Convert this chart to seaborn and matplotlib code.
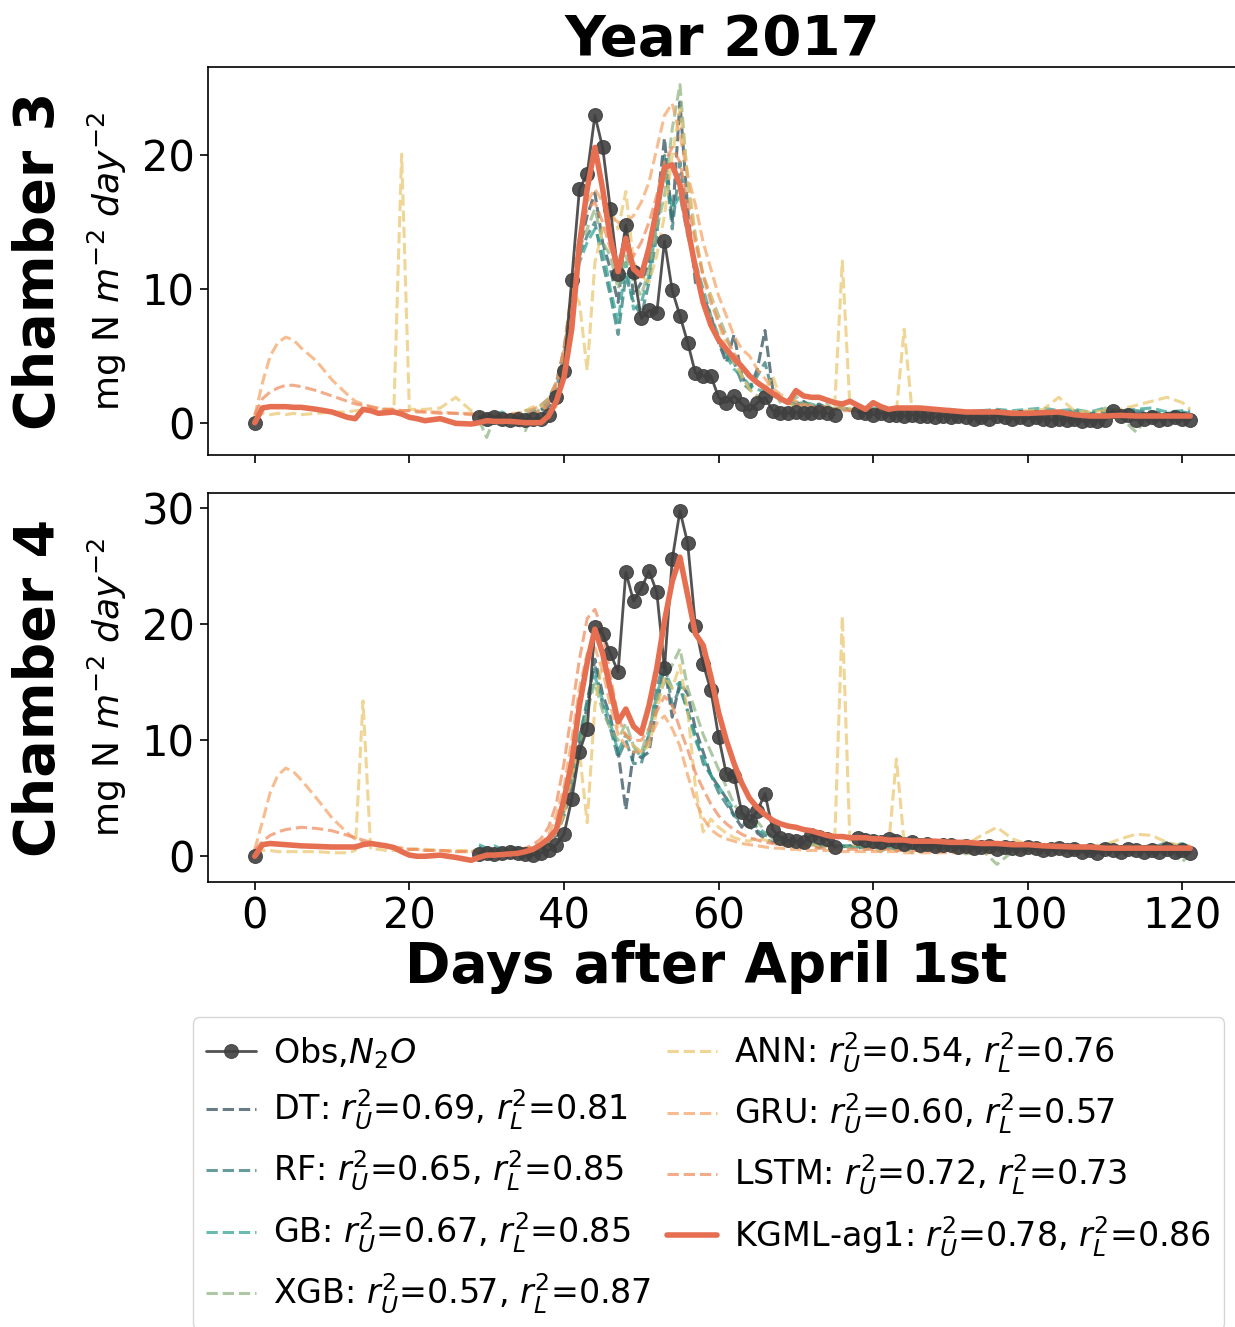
import numpy as np
import pandas as pd
import seaborn as sns
import matplotlib.pyplot as plt

sns.set_style('ticks')
plt.rcParams['font.family'] = ['DejaVu Sans']
plt.rcParams['mathtext.fontset'] = 'dejavusans'
plt.rcParams['text.color'] = 'black'
plt.rcParams['axes.labelcolor'] = 'black'

# x grids (days after April 1st)
early_days = [0, 1, 2, 3, 4, 5, 6, 8, 10, 12, 13, 14, 15, 16, 17, 18, 19, 20, 21, 22, 24, 26, 28]
main_days = list(range(29, 87)) + list(range(88, 121, 2)) + [121]
obs_days = [0] + list(range(29, 76)) + list(range(78, 122))
obs_segment = [0] + [1] * 47 + [2] * 44   # gaps in the observations

models = ['DT', 'RF', 'GB', 'XGB', 'ANN', 'GRU', 'LSTM', 'KGML-ag1']
r2_u = ['0.69', '0.65', '0.67', '0.57', '0.54', '0.60', '0.72', '0.78']
r2_l = ['0.81', '0.85', '0.85', '0.87', '0.76', '0.57', '0.73', '0.86']
colors = ['#264653', '#287271', '#2a9d8f', '#8ab17d', '#e9c46a', '#f4a261', '#ee8959', '#e76f51']

# ---------------- Chamber 3 ----------------
c3_obs = [0.0,
          0.4, 0.3, 0.4, 0.3, 0.2, 0.3, 0.2, 0.3, 0.3, 0.6,
          1.9, 3.9, 10.7, 17.5, 18.6, 23.0, 20.6, 16.0, 11.1, 14.8, 11.3, 7.8, 8.4, 8.2, 13.6, 9.9, 8.0, 6.0, 3.7, 3.5, 3.5, 1.9,
          1.5, 2.0, 1.4, 0.9, 1.5, 1.9, 0.9, 0.7, 0.7, 0.8, 0.7, 0.7, 0.8, 0.7, 0.6,
          0.8, 0.7, 0.6, 0.7, 0.6, 0.6, 0.5, 0.6, 0.5, 0.5, 0.4, 0.5, 0.4, 0.5, 0.4, 0.3, 0.4, 0.3, 0.5, 0.4, 0.3, 0.4,
          0.3, 0.4, 0.3, 0.2, 0.3, 0.2, 0.3, 0.1, 0.2, 0.1, 0.2, 0.9, 0.5, 0.6, 0.2, 0.3, 0.4, 0.2, 0.3, 0.4, 0.3, 0.2]

c3_kgml_early = [0.0, 1.1, 1.2, 1.2, 1.2, 1.15, 1.15, 1.0, 0.8, 0.4, 0.3, 1.0, 0.9, 0.7, 0.75, 0.8, 0.65, 0.4, 0.3, 0.15, 0.3, -0.05, -0.1]
c3_kgml = [0.0, 0.15, 0.1, 0.1, 0.1, 0.05, 0.0, 0.0, 0.0, 0.5,
           1.6, 3.4, 7.0, 13.3, 17.5, 20.6, 17.5, 13.8, 11.3, 13.8, 11.5, 11.0, 13.1, 16.0, 19.1, 19.3, 17.8, 14.6, 11.6, 9.0, 7.3, 6.2,
           5.5, 4.8, 4.2, 3.5, 3.0, 2.6, 2.2, 1.8, 1.5, 2.4, 2.0, 1.9, 1.9, 1.7, 1.5, 1.4, 1.6, 1.3, 1.0,
           1.5, 1.2, 1.0, 1.1, 1.1, 1.1, 1.1,
           1.0, 0.9, 0.8, 0.8, 0.8, 0.7, 0.7, 0.75, 0.8, 0.6, 0.5, 0.5, 0.55, 0.5, 0.5, 0.5, 0.5, 0.5]
c3_dt = [0.5, 0.6, 0.4, 0.5, 0.6, 0.4, 0.5, 0.7, 0.9, 1.2,
         2.0, 4.0, 8.5, 13.0, 15.5, 17.2, 13.5, 11.5, 9.0, 14.5, 9.5, 10.5, 12.0, 16.0, 21.3, 15.0, 24.0, 16.0, 10.5, 9.5, 8.0, 6.0,
         4.5, 6.6, 3.5, 2.5, 4.0, 6.9, 2.5, 1.8, 1.5, 1.3, 1.6, 1.2, 1.4, 1.1, 1.0, 1.2, 0.9, 1.0, 0.8,
         0.9, 1.0, 0.8, 1.0, 0.7, 0.9, 0.8,
         0.7, 0.9, 0.6, 0.8, 0.7, 0.6, 0.8, 0.7, 0.5, 0.7, 0.6, 0.9, 0.6, 0.7, 0.8, 0.6, 0.7, 0.6]
c3_rf = [0.6, 0.3, 0.5, 0.4, 0.3, 0.5, 0.6, 0.8, 1.0, 1.5,
         2.5, 5.0, 9.0, 12.5, 14.0, 15.0, 12.0, 9.5, 6.6, 11.0, 9.0, 8.0, 10.5, 14.0, 20.0, 14.5, 19.5, 15.0, 11.5, 9.0, 7.5, 6.0,
         5.0, 4.5, 3.0, 2.5, 3.5, 4.5, 2.2, 1.8, 1.5, 1.4, 1.5, 1.2, 1.3, 1.1, 1.0, 1.1, 1.0, 0.9, 0.9,
         1.0, 0.9, 0.9, 0.8, 0.9, 0.8, 1.0,
         0.8, 0.7, 0.8, 0.9, 0.7, 0.8, 0.7, 0.8, 0.6, 0.9, 0.7, 0.8, 0.7, 0.9, 0.8, 0.7, 0.8, 0.7]
c3_gb = [0.7, 0.5, 0.6, 0.8, 0.5, 0.7, 0.9, 1.0, 1.3, 1.8,
         3.0, 5.5, 9.5, 12.0, 13.5, 14.5, 13.0, 10.0, 7.5, 12.0, 8.5, 9.0, 11.0, 15.0, 19.0, 16.0, 17.0, 14.0, 12.0, 10.0, 8.0, 6.5,
         5.0, 4.0, 3.5, 2.8, 2.5, 2.3, 2.0, 1.8, 1.6, 1.5, 1.5, 1.4, 1.2, 1.1, 1.1, 1.0, 1.0, 1.0, 0.9,
         1.1, 1.0, 1.0, 0.9, 1.0, 0.9, 1.0,
         0.9, 1.0, 0.8, 0.9, 1.0, 0.9, 1.0, 1.1, 0.9, 1.0, 0.8, 1.1, 0.9, 1.0, 1.1, 0.8, 0.9, 0.9]
c3_xgb = [0.2, -1.1, 0.4, 0.1, 0.6, -0.1, -0.6, 0.7, 1.0, 1.5,
          3.0, 5.0, 9.0, 13.0, 14.5, 16.0, 13.5, 12.5, 10.0, 12.5, 10.5, 9.5, 11.5, 14.5, 17.0, 22.0, 25.3, 18.0, 14.0, 11.0, 9.5, 8.0,
          6.5, 5.0, 3.5, 2.5, 2.0, 1.5, 2.5, 1.5, 0.8, 2.0, 1.2, 0.7, 1.0, 1.4, 0.9, 1.2, 0.9, 1.0, 0.8,
          0.9, 0.7, 0.6, 1.0, 0.5, 0.9, 0.4,
          1.0, 0.6, 0.2, 0.9, 0.5, 0.8, 0.3, 0.9, 0.5, 0.8, 0.2, 1.1, 0.4, -0.7, 0.8, 0.6, 0.3, 0.5]
c3_ann_early = [0.3, 0.7, 0.6, 0.7, 0.6, 0.7, 0.6, 0.7, 0.8, 0.8, 0.9, 0.9, 0.9, 0.9, 1.0, 1.0, 20.1, 1.0, 1.0, 1.0, 1.1, 1.9, 0.9]
c3_ann = [0.8, 0.6, 0.7, 0.6, 0.5, 0.7, 0.9, 1.2, 1.3, 0.9,
          1.2, 4.5, 10.0, 9.0, 3.9, 12.0, 14.5, 16.0, 14.5, 17.3, 12.0, 11.0, 10.5, 12.5, 15.5, 20.0, 23.5, 18.5, 14.0, 11.0, 9.5, 7.5,
          5.5, 4.5, 3.5, 2.5, 1.8, 2.5, 3.5, 1.8, 1.5, 1.2, 1.2, 1.0, 1.0, 1.0, 1.1, 12.1, 1.0, 1.0, 0.9,
          1.0, 0.9, 0.9, 0.9, 7.0, 1.0, 1.0,
          0.9, 1.0, 0.9, 0.8, 0.9, 0.8, 0.9, 1.0, 1.9, 0.9, 0.8, 0.9, 1.0, 1.3, 1.6, 1.9, 1.5, 1.0]
c3_gru_early = [0.5, 3.0, 5.0, 6.0, 6.4, 6.2, 5.6, 4.6, 3.2, 2.1, 1.6, 1.4, 1.2, 1.0, 1.0, 1.0, 0.9, 0.9, 0.9, 0.8, 0.8, 0.7, 0.7]
c3_gru = [0.6, 0.6, 0.6, 0.6, 0.7, 0.7, 0.8, 1.0, 1.3, 1.8,
          3.0, 5.5, 9.5, 14.0, 16.5, 17.5, 16.5, 15.5, 15.0, 15.0, 15.5, 16.5, 18.0, 20.5, 23.0, 23.9, 21.5, 18.5, 16.3, 13.5, 11.5, 9.5,
          8.0, 6.5, 5.5, 5.0, 4.0, 3.3, 2.6, 2.1, 1.8, 1.6, 1.4, 1.3, 1.2, 1.2, 1.1, 1.1, 1.0, 1.0, 1.0,
          0.9, 0.9, 0.9, 0.8, 0.8, 0.8, 0.8,
          0.8, 0.7, 0.7, 0.7, 0.7, 0.7, 0.6, 0.6, 0.6, 0.6, 0.6, 0.6, 0.6, 0.6, 0.6, 0.6, 0.6, 0.6]
c3_lstm_early = [0.6, 1.8, 2.3, 2.6, 2.8, 2.8, 2.7, 2.4, 2.0, 1.6, 1.4, 1.3, 1.2, 1.1, 1.0, 1.0, 0.9, 0.9, 0.8, 0.8, 0.7, 0.7, 0.6]
c3_lstm = [0.5, 0.5, 0.5, 0.5, 0.5, 0.6, 0.6, 0.7, 0.9, 1.4,
           2.8, 5.5, 10.0, 14.0, 16.0, 16.5, 15.0, 13.0, 12.0, 12.0, 12.5, 13.5, 15.0, 17.0, 19.5, 20.6, 19.5, 16.5, 13.5, 11.0, 9.0, 7.5,
           6.2, 5.2, 4.3, 3.6, 3.0, 2.5, 2.1, 1.8, 1.6, 1.4, 1.3, 1.2, 1.1, 1.0, 1.0, 0.9, 0.9, 0.9, 0.8,
           0.8, 0.8, 0.8, 0.7, 0.7, 0.7, 0.7,
           0.7, 0.7, 0.6, 0.6, 0.6, 0.6, 0.6, 0.5, 0.5, 0.5, 0.5, 0.5, 0.5, 0.5, 0.5, 0.5, 0.5, 0.5]

# ---------------- Chamber 4 ----------------
c4_obs = [0.0,
          0.2, 0.3, 0.2, 0.3, 0.4, 0.3, 0.2, 0.1, 0.3, 0.5,
          1.0, 1.9, 4.9, 9.0, 11.0, 19.8, 19.2, 17.5, 15.9, 24.5, 22.0, 23.1, 24.6, 22.8, 16.2, 25.6, 29.8, 27.0, 19.9, 16.6, 14.3, 10.3,
          7.1, 6.9, 3.8, 3.0, 3.9, 5.4, 2.3, 1.6, 1.4, 1.3, 1.2, 1.8, 1.7, 1.5, 0.8,
          1.6, 1.4, 1.3, 1.2, 1.5, 1.3, 1.1, 1.2, 1.0, 1.1, 0.9, 1.0, 1.0, 0.8, 0.9, 0.7, 0.8, 0.9, 0.6, 0.8, 0.7, 0.6,
          0.8, 0.7, 0.5, 0.6, 0.7, 0.5, 0.6, 0.4, 0.5, 0.3, 0.6, 0.5, 0.4, 0.6, 0.5, 0.4, 0.5, 0.4, 0.6, 0.4, 0.5, 0.3]

c4_kgml_early = [0.0, 1.0, 1.1, 1.05, 1.0, 0.95, 0.9, 0.85, 0.8, 0.8, 0.8, 1.0, 1.1, 1.0, 0.9, 0.75, 0.4, 0.1, 0.0, 0.0, 0.1, -0.1, -0.35]
c4_kgml = [-0.1, 0.1, 0.1, 0.15, 0.2, 0.25, 0.4, 0.6, 1.0, 1.5,
           2.3, 4.9, 8.1, 13.0, 16.7, 19.6, 17.5, 14.4, 11.6, 12.7, 11.2, 10.6, 13.0, 16.2, 20.3, 23.7, 25.8, 22.5, 19.2, 18.2, 15.5, 12.4,
           10.0, 8.0, 6.3, 5.0, 4.2, 3.6, 3.1, 2.8, 2.6, 2.5, 2.3, 2.2, 2.0, 1.8, 1.7, 1.7, 1.6, 1.6, 1.6,
           1.5, 1.5, 1.4, 1.4, 1.4, 1.3, 1.3,
           1.3, 1.2, 1.2, 1.1, 1.1, 1.0, 1.0, 0.9, 0.85, 0.8, 0.8, 0.7, 0.7, 0.7, 0.7, 0.7, 0.7, 0.7]
c4_dt = [0.5, 0.2, 0.4, 0.3, 0.5, 0.2, 0.3, 0.5, 0.7, 1.0,
         1.8, 3.5, 6.0, 9.5, 13.0, 17.0, 14.0, 12.0, 9.0, 4.0, 9.0, 8.5, 9.0, 13.0, 16.5, 12.0, 15.0, 14.0, 11.0, 9.0, 7.0, 6.0,
         5.0, 3.5, 2.5, 4.0, 2.0, 1.5, 1.2, 1.5, 1.0, 1.2, 0.9, 1.1, 0.8, 1.0, 0.9, 0.8, 0.9, 0.7, 0.8,
         0.8, 0.7, 0.8, 0.6, 0.7, 0.8, 0.6,
         0.7, 0.6, 0.8, 0.5, 0.7, 0.6, 0.5, 0.7, 0.6, 0.4, 0.6, 0.5, 0.7, 0.5, 0.6, 0.5, 0.8, 0.6]
c4_rf = [0.8, 0.5, 0.6, 0.4, 0.6, 0.5, 0.4, 0.6, 0.8, 1.2,
         2.2, 4.0, 6.5, 10.0, 13.5, 16.5, 13.0, 11.0, 8.5, 10.0, 8.0, 8.0, 10.5, 14.5, 17.0, 13.0, 14.5, 12.5, 10.5, 8.0, 7.0, 5.5,
         4.5, 3.5, 3.0, 2.5, 2.2, 1.8, 1.6, 1.4, 1.3, 1.2, 1.1, 1.0, 1.0, 0.9, 0.9, 0.9, 0.8, 0.8, 0.8,
         0.9, 0.8, 0.7, 0.8, 0.9, 0.7, 0.8,
         0.7, 0.8, 0.6, 0.7, 0.8, 0.7, 0.6, 0.8, 0.7, 0.9, 0.6, 0.7, 0.8, 0.6, 0.7, 1.2, 0.7, 0.8]
c4_gb = [1.0, 0.7, 0.9, 0.6, 0.8, 0.7, 0.6, 0.7, 0.9, 1.3,
         2.5, 4.0, 7.0, 10.5, 13.0, 15.5, 13.5, 11.5, 9.0, 10.5, 9.5, 8.5, 10.5, 14.0, 16.0, 14.5, 15.0, 12.5, 10.0, 8.5, 7.0, 6.0,
         5.0, 4.0, 3.5, 3.0, 2.5, 2.0, 1.8, 1.6, 1.4, 1.3, 1.2, 1.1, 1.0, 1.0, 1.0, 0.9, 0.9, 0.9, 0.9,
         1.0, 0.9, 0.8, 1.0, 0.9, 0.8, 0.9,
         0.8, 0.9, 0.7, 0.8, 0.9, 0.8, 0.7, 0.8, 0.9, 0.7, 0.8, 0.9, 0.7, 0.8, 0.9, 0.8, 1.1, 0.8]
c4_xgb = [0.4, 0.1, 0.5, -0.2, 0.3, 0.6, -0.1, 0.4, 0.6, 1.0,
          2.0, 3.8, 6.5, 9.5, 12.5, 15.0, 12.5, 11.0, 10.0, 11.5, 9.5, 9.0, 11.0, 13.5, 15.0, 16.5, 17.9, 14.5, 12.5, 10.5, 9.0, 7.5,
          6.0, 4.5, 3.5, 2.5, 3.0, 2.2, 1.5, 1.8, 1.0, 1.5, 0.9, 1.2, 0.7, 1.0, 0.8, 1.0, 0.7, 0.9, 0.6,
          0.7, 0.4, 0.8, 0.5, 0.9, 0.3, 0.7,
          0.5, 0.8, 0.2, 0.6, -0.7, 0.4, 0.5, 0.7, 0.3, 0.8, 0.4, 0.7, 0.2, 0.6, 0.5, 0.8, -0.5, 0.4]
c4_ann_early = [0.2, 0.5, 0.5, 0.4, 0.4, 0.4, 0.4, 0.4, 0.3, 0.3, 0.5, 13.4, 0.6, 0.6, 0.5, 0.5, 0.5, 0.6, 0.6, 0.6, 0.5, 0.5, 0.5]
c4_ann = [0.5, 0.4, 0.5, 0.5, 0.4, 0.5, 0.6, 0.7, 0.9, 1.3,
          2.0, 3.5, 7.0, 9.0, 2.9, 13.0, 17.0, 14.0, 11.0, 10.5, 9.5, 9.0, 9.5, 12.5, 15.5, 14.5, 16.5, 12.5, 6.0, 2.1, 3.2, 2.5,
          2.0, 1.6, 1.4, 1.3, 1.6, 1.4, 1.2, 1.1, 1.0, 1.0, 0.9, 1.0, 0.9, 1.0, 1.0, 20.7, 1.0, 1.0, 0.9,
          0.9, 0.9, 1.0, 8.4, 1.2, 1.0, 0.9,
          0.9, 0.9, 1.0, 1.8, 2.5, 1.5, 1.0, 0.9, 0.8, 0.9, 0.8, 1.0, 1.5, 1.9, 1.8, 1.2, 0.9, 0.9]
c4_gru_early = [0.6, 3.0, 5.5, 7.0, 7.6, 7.3, 6.6, 5.0, 3.3, 2.0, 1.5, 1.2, 1.0, 0.9, 0.8, 0.7, 0.7, 0.6, 0.6, 0.5, 0.5, 0.4, 0.4]
c4_gru = [0.4, 0.4, 0.4, 0.4, 0.5, 0.5, 0.6, 0.8, 1.1, 1.8,
          3.5, 6.0, 10.0, 14.5, 17.5, 18.0, 16.0, 13.0, 10.5, 9.5, 9.0, 9.0, 10.0, 11.5, 12.1, 11.0, 9.5, 7.0, 4.8, 3.3, 2.3, 1.8,
          1.5, 1.3, 1.1, 1.0, 0.9, 0.8, 0.7, 0.7, 0.6, 0.6, 0.5, 0.5, 0.5, 0.5, 0.5, 0.4, 0.4, 0.4, 0.4,
          0.4, 0.4, 0.4, 0.4, 0.3, 0.3, 0.3,
          0.3, 0.3, 0.3, 0.3, 0.3, 0.3, 0.3, 0.3, 0.3, 0.3, 0.3, 0.3, 0.3, 0.3, 0.3, 0.3, 0.3, 0.3]
c4_lstm_early = [0.5, 1.3, 1.8, 2.1, 2.3, 2.4, 2.5, 2.4, 2.2, 1.8, 1.6, 1.4, 1.2, 1.0, 0.9, 0.8, 0.7, 0.6, 0.6, 0.5, 0.5, 0.4, 0.4]
c4_lstm = [0.4, 0.4, 0.4, 0.5, 0.5, 0.6, 0.7, 1.0, 1.5, 2.5,
           4.5, 8.0, 12.5, 17.0, 20.5, 21.3, 19.5, 15.5, 12.0, 10.4, 10.0, 10.0, 11.0, 12.5, 13.8, 13.0, 11.0, 9.2, 7.2, 5.8, 4.5, 3.5,
           2.8, 2.3, 1.9, 1.6, 1.4, 1.2, 1.1, 1.0, 0.9, 0.9, 0.8, 0.8, 0.7, 0.7, 0.7, 0.6, 0.6, 0.6, 0.6,
           0.6, 0.6, 0.6, 0.5, 0.5, 0.5, 0.5,
           0.5, 0.5, 0.5, 0.5, 0.5, 0.5, 0.5, 0.5, 0.5, 0.5, 0.5, 0.5, 0.5, 0.5, 0.5, 0.5, 0.5, 0.5]

c3_series = [(main_days, c3_dt), (main_days, c3_rf), (main_days, c3_gb), (main_days, c3_xgb),
             (early_days + main_days, c3_ann_early + c3_ann),
             (early_days + main_days, c3_gru_early + c3_gru),
             (early_days + main_days, c3_lstm_early + c3_lstm),
             (early_days + main_days, c3_kgml_early + c3_kgml)]
c4_series = [(main_days, c4_dt), (main_days, c4_rf), (main_days, c4_gb), (main_days, c4_xgb),
             (early_days + main_days, c4_ann_early + c4_ann),
             (early_days + main_days, c4_gru_early + c4_gru),
             (early_days + main_days, c4_lstm_early + c4_lstm),
             (early_days + main_days, c4_kgml_early + c4_kgml)]

fig = plt.figure(figsize=(12.35, 13.27), dpi=100)
ax1 = fig.add_axes([0.1684, 0.6571, 0.8332, 0.2924])
ax2 = fig.add_axes([0.1684, 0.3353, 0.8332, 0.2931], sharex=ax1)


def draw(ax, obs, series, chamber):
    df = pd.DataFrame({'day': obs_days, 'flux': obs, 'seg': obs_segment})
    sns.lineplot(data=df, x='day', y='flux', units='seg', estimator=None, ax=ax, color='#404040',
                 lw=2, marker='o', markersize=10, markeredgecolor='#404040', alpha=0.9,
                 label='Obs,$N_2O$', zorder=3)
    for i, (days, vals) in enumerate(series):
        lab = models[i] + ': $r_U^2$=' + r2_u[i] + ', $r_L^2$=' + r2_l[i]
        if models[i] == 'KGML-ag1':
            sns.lineplot(x=days, y=vals, ax=ax, color=colors[i], lw=4, label=lab, zorder=4)
        else:
            sns.lineplot(x=days, y=vals, ax=ax, color=colors[i], lw=2.2, linestyle='--',
                         alpha=0.7, label=lab, zorder=2)
    if ax.get_legend() is not None:
        ax.get_legend().remove()
    ax.set_ylabel('')
    ax.set_xlabel('')
    ax.tick_params(labelsize=30, length=6, width=1.2, colors='black')
    ax.text(-0.164, 0.5, 'Chamber ' + chamber, transform=ax.transAxes, rotation=90,
            ha='center', va='center', fontsize=40, fontweight='bold')
    ax.text(-0.098, 0.5, 'mg N $m^{-2}$ $day^{-2}$', transform=ax.transAxes, rotation=90,
            ha='center', va='center', fontsize=26)
    for s in ax.spines.values():
        s.set_color('black')
        s.set_linewidth(1.2)


draw(ax1, c3_obs, c3_series, '3')
draw(ax2, c4_obs, c4_series, '4')

ax1.set_xticks([0, 20, 40, 60, 80, 100, 120])
ax1.tick_params(labelbottom=False)
ax1.set_yticks([0, 10, 20])
ax2.set_yticks([0, 10, 20, 30])
ax1.set_title('Year 2017', fontsize=40.5, fontweight='bold', pad=8)
ax2.set_xlabel('Days after April 1st', fontsize=39.5, fontweight='bold', labelpad=2)
ax2.xaxis.label.set_x(0.484)

# one legend entry per series (obs is drawn as several segments)
handles, labels = ax1.get_legend_handles_labels()
uniq = {}
for h, l in zip(handles, labels):
    if l not in uniq:
        uniq[l] = h
fig.legend(list(uniq.values()), list(uniq.keys()), loc='upper left', bbox_to_anchor=(0.156, 0.2336),
           ncol=2, fontsize=24, handlelength=1.5, handletextpad=0.5, columnspacing=0.5,
           labelspacing=0.51, borderpad=0.4, borderaxespad=0, frameon=True)

fig.savefig('out.png', dpi=100)
